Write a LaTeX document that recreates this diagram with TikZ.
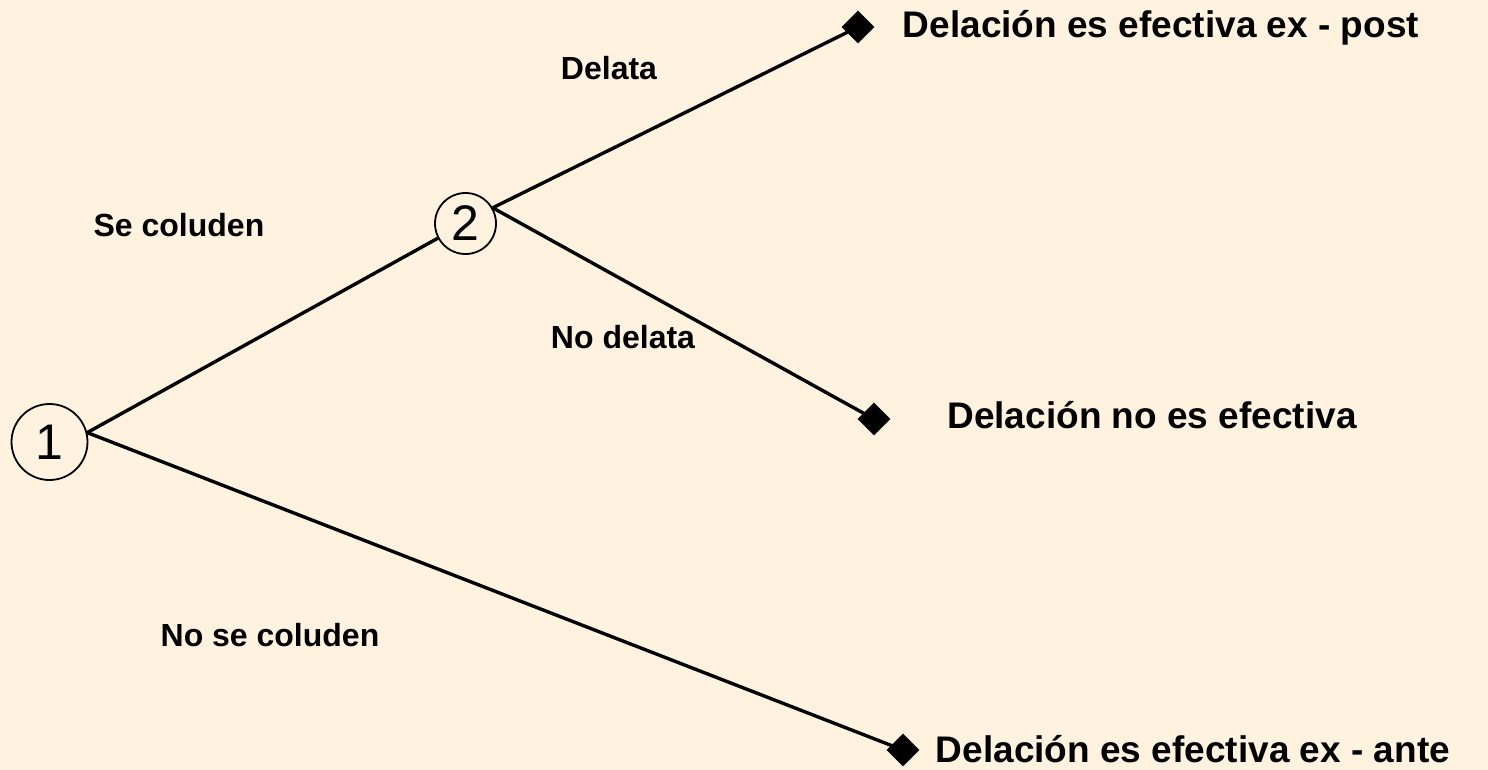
\documentclass[tikz,border=0pt]{standalone}
\usepackage{fontspec}
\setmainfont{Liberation Sans}
\usetikzlibrary{shapes.geometric}
\definecolor{bgcream}{RGB}{255,243,223}
\tikzset{
  decision/.style={circle, draw=black, line width=1.8pt, inner sep=0pt, font=\fontsize{50}{58}\selectfont},
  terminal/.style={diamond, fill=black, inner sep=0pt, minimum size=33pt},
  branch/.style={line width=3.4pt, black},
  lbl/.style={font=\fontsize{32}{38}\selectfont\bfseries, inner sep=0pt},
  outc/.style={font=\fontsize{37}{44}\selectfont\bfseries, inner sep=0pt}
}
\begin{document}
\begin{tikzpicture}[x=1pt,y=-1pt]
\fill[bgcream] (0,0) rectangle (1488,770);
\useasboundingbox (0,0) rectangle (1488,770);
\node[decision, minimum size=76pt] (n1) at (49.5,442) {1};
\node[decision, minimum size=61pt] (n2) at (465.5,223.5) {2};
\node[terminal] (d1) at (858,27) {};
\node[terminal] (d2) at (874,419) {};
\node[terminal] (d3) at (903,750) {};
\draw[branch] (n1.14) -- (n2.208);
\draw[branch] (n2.30) -- (d1.center);
\draw[branch] (n2.30) -- (d2.center);
\draw[branch] (n1.14) -- (d3.center);
\node[lbl] (l1) at (609,68) {Delata};
\node[lbl] (l2) at (179,225) {Se coluden};
\node[lbl] (l3) at (623,337) {No delata};
\node[lbl] (l4) at (270,635) {No se coluden};
\node[outc] (o1) at (1161,28) {Delación es efectiva ex - post};
\node[outc] (o2) at (1152,415) {Delación no es efectiva};
\node[outc] (o3) at (1193,749) {Delación es efectiva ex - ante};
\end{tikzpicture}
\end{document}
